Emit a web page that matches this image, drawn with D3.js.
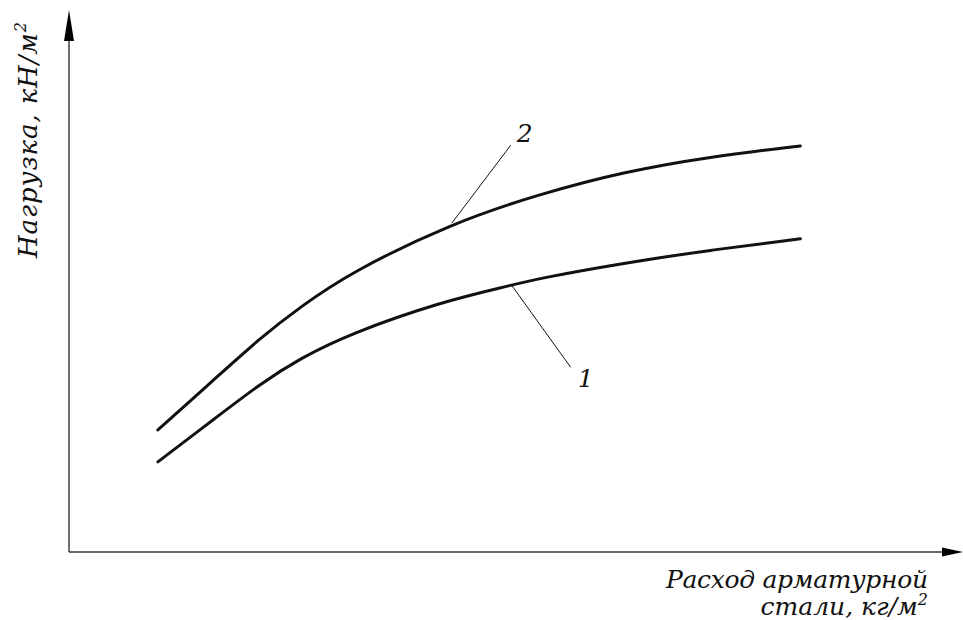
<!DOCTYPE html>
<html>
<head>
<meta charset="utf-8">
<script src="https://cdn.jsdelivr.net/npm/d3@7"></script>
<style>
    body { margin: 0; background: #fff; }
</style>
</head>
<body>
<svg id="chart" width="963" height="620"></svg>
<script>
// steel consumption (relative units) and load (relative units)
const steel2 = [10.1, 16.8, 21.7, 26.3, 31.9, 43.5, 53.5, 63.0, 72.8, 83.1];
const load2  = [22.6, 32.4, 39.6, 45.4, 51.7, 60.9, 66.3, 70.4, 73.2, 75.2];
const steel1 = [10.1, 16.8, 21.7, 26.3, 31.9, 42.2, 50.3, 53.5, 63.0, 72.8, 83.1];
const load1  = [16.7, 25.0, 31.1, 35.9, 40.4, 46.3, 49.4, 50.7, 53.5, 55.9, 58.0];

const curveNames = ["1", "2"];
const labelAt = [50.3, 43.5];   // where each leader line touches its curve

const yTitle = "Нагрузка, кН/м";
const xTitle = ["Расход арматурной", "стали, кг/м"];

const FONT = "DejaVu Serif";

const svg = d3.select("#chart");

const x = d3.scaleLinear().domain([0, 100]).range([69, 949]);
const y = d3.scaleLinear().domain([0, 100]).range([552, 12]);

// axes with arrow heads
svg.append("line")
    .attr("x1", x(0)).attr("y1", y(0))
    .attr("x2", x(0)).attr("y2", 38)
    .attr("stroke", "#333").attr("stroke-width", 1.4);
svg.append("line")
    .attr("x1", x(0)).attr("y1", y(0))
    .attr("x2", 945).attr("y2", y(0))
    .attr("stroke", "#333").attr("stroke-width", 1.4);
svg.append("path")
    .attr("d", `M${x(0)},10 L${x(0) + 5},41 L${x(0) - 5},41 Z`)
    .attr("fill", "#000");
svg.append("path")
    .attr("d", `M963,${y(0)} L942,${y(0) - 4.5} L942,${y(0) + 4.5} Z`)
    .attr("fill", "#000");

// curves
const line = d3.line()
    .x(d => x(d[0]))
    .y(d => y(d[1]))
    .curve(d3.curveBasis);

const series = [
    d3.zip(steel1, load1),
    d3.zip(steel2, load2)
];

svg.selectAll(".curve").data(series).enter()
    .append("path")
    .attr("class", "curve")
    .attr("d", line)
    .attr("fill", "none")
    .attr("stroke", "#111")
    .attr("stroke-width", 3)
    .attr("stroke-linecap", "round");

// leader lines and numbers
const leader = [
    { dx: 59, dy: 82, tx: 66, ty: 102 },
    { dx: 59, dy: -78, tx: 65, ty: -81 }
];

curveNames.forEach((name, i) => {
    const pts = series[i];
    const px = x(labelAt[i]);
    // interpolate load on curve at the leader point
    const j = d3.bisector(p => p[0]).left(pts, labelAt[i]);
    const a = pts[Math.max(j - 1, 0)], b = pts[j];
    const t = b[0] === a[0] ? 0 : (labelAt[i] - a[0]) / (b[0] - a[0]);
    const py = y(a[1] + t * (b[1] - a[1]));
    const o = leader[i];
    svg.append("line")
        .attr("x1", px).attr("y1", py)
        .attr("x2", px + o.dx).attr("y2", py + o.dy)
        .attr("stroke", "#111").attr("stroke-width", 1);
    svg.append("text")
        .attr("x", px + o.tx).attr("y", py + o.ty)
        .attr("font-family", FONT)
        .attr("font-style", "italic")
        .attr("font-size", 25)
        .attr("fill", "#111")
        .text(name);
});

// axis titles
const yt = svg.append("text")
    .attr("transform", "translate(37,258) rotate(-90)")
    .attr("font-family", FONT)
    .attr("font-style", "italic")
    .attr("font-size", 26)
    .attr("textLength", 236)
    .attr("fill", "#111")
    .text(yTitle);
yt.append("tspan").attr("font-size", 16).attr("dy", -11).text("2");

xTitle.forEach((t, i) => {
    const tx = svg.append("text")
        .attr("x", 928)
        .attr("y", 588 + i * 27)
        .attr("text-anchor", "end")
        .attr("font-family", FONT)
        .attr("font-style", "italic")
        .attr("font-size", 25)
        .attr("fill", "#111")
        .text(t);
    if (i === 0) tx.attr("textLength", 262);
    if (i === 1) tx.append("tspan").attr("font-size", 16).attr("dy", -10).text("2");
});
</script>
</body>
</html>
